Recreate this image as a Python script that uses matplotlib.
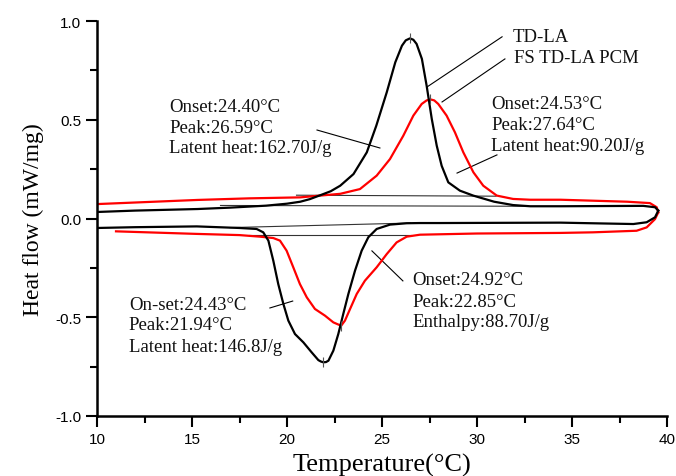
import matplotlib
matplotlib.use("Agg")
import matplotlib.pyplot as plt
from matplotlib.ticker import MultipleLocator

# ---------------- data ----------------
# TD-LA heating (upper, black)
td_heat_T = [10.0, 12.0, 15.3, 17.0, 18.9, 20.0, 20.7, 21.2, 21.7, 22.3, 22.8, 23.5, 24.2, 24.7,
             25.25, 25.7, 26.05, 26.25, 26.47, 26.65, 26.82, 27.1, 27.35, 27.62, 27.88, 28.14,
             28.49, 29.1, 29.8, 30.9, 31.9, 32.8, 34.4, 36.5, 38.75, 39.37, 39.54]
td_heat_v = [0.033, 0.040, 0.048, 0.055, 0.065, 0.075, 0.085, 0.098, 0.116, 0.138, 0.166, 0.225,
             0.335, 0.470, 0.639, 0.791, 0.875, 0.902, 0.912, 0.905, 0.884, 0.808, 0.672, 0.504,
             0.369, 0.267, 0.183, 0.141, 0.116, 0.085, 0.068, 0.062, 0.062, 0.063, 0.064, 0.057,
             0.040]
# TD-LA cooling (lower, black) from high T to low T
td_cool_T = [39.54, 39.37, 38.93, 38.23, 36.0, 34.4, 31.0, 28.0, 27.0, 26.3, 25.42, 24.72,
             24.28, 23.93, 23.58, 23.23, 22.96, 22.7, 22.44, 22.18, 22.05, 21.91, 21.78, 21.65,
             21.3, 20.86, 20.42, 20.07, 19.81, 19.54, 19.28, 19.02, 18.75, 18.4, 17.5, 15.25,
             12.0, 10.0]
td_cool_v = [0.040, 0.006, -0.019, -0.028, -0.024, -0.021, -0.022, -0.023, -0.023, -0.024,
             -0.031, -0.053, -0.095, -0.163, -0.264, -0.382, -0.484, -0.585, -0.669, -0.720,
             -0.727, -0.728, -0.724, -0.717, -0.678, -0.627, -0.585, -0.517, -0.433, -0.332,
             -0.214, -0.112, -0.070, -0.053, -0.048, -0.040, -0.044, -0.048]
# FS TD-LA PCM heating (upper, red)
fs_heat_T = [10.0, 15.3, 18.0, 20.7, 22.8, 23.84, 24.72, 25.42, 26.12, 26.65, 27.09, 27.35,
             27.55, 27.75, 27.96, 28.4, 28.84, 29.28, 29.81, 30.33, 31.04, 31.9, 32.8, 34.4,
             37.9, 39.1, 39.46, 39.54]
fs_heat_v = [0.073, 0.094, 0.102, 0.107, 0.125, 0.149, 0.217, 0.301, 0.419, 0.521, 0.580, 0.598,
             0.603, 0.598, 0.580, 0.521, 0.436, 0.335, 0.234, 0.166, 0.116, 0.099, 0.095, 0.095,
             0.085, 0.078, 0.057, 0.031]
# FS TD-LA PCM cooling (lower, red)
fs_cool_T = [39.54, 39.37, 38.93, 38.4, 36.1, 34.4, 30.0, 27.0, 26.3, 25.77, 25.25, 24.72,
             24.1, 23.67, 23.32, 23.05, 22.85, 22.44, 22.0, 21.47, 21.04, 20.68, 20.33, 19.98,
             19.63, 19.28, 18.58, 17.5, 15.25, 11.0]
fs_cool_v = [0.031, -0.003, -0.045, -0.062, -0.070, -0.073, -0.076, -0.082, -0.092, -0.121,
             -0.180, -0.247, -0.315, -0.382, -0.458, -0.517, -0.543, -0.526, -0.492, -0.458,
             -0.399, -0.332, -0.247, -0.163, -0.112, -0.099, -0.092, -0.084, -0.078, -0.065]

# integration baselines (thin lines)
base_T = [[16.5, 32.5], [20.5, 31.0], [17.0, 26.5], [18.0, 26.5]]
base_v = [[0.066, 0.062], [0.118, 0.113], [-0.046, -0.023], [-0.085, -0.085]]

# peak markers
peak_T = [26.47, 27.55, 21.91, 22.85]
peak_v = [0.912, 0.603, -0.728, -0.543]

# annotation blocks: lines, left x (T) and centre of each row (v)
blocks = [["Onset:24.40\u00b0C", "Peak:26.59\u00b0C", "Latent heat:162.70J/g"],
          ["Onset:24.53\u00b0C", "Peak:27.64\u00b0C", "Latent heat:90.20J/g"],
          ["On-set:24.43\u00b0C", "Peak:21.94\u00b0C", "Latent heat:146.8J/g"],
          ["Onset:24.92\u00b0C", "Peak:22.85\u00b0C", "Enthalpy:88.70J/g"],
          ["TD-LA"], ["FS TD-LA PCM"]]
block_T = [13.79, 30.74, 11.68, 26.58, 31.89, 31.95]
block_v = [[0.565, 0.463, 0.357], [0.580, 0.478, 0.372], [-0.433, -0.539, -0.646],
           [-0.311, -0.418, -0.524], [0.924], [0.813]]
lead_T = [[21.58, 24.89], [31.05, 28.95], [19.1, 20.3], [24.47, 26.1], [31.32, 27.37], [31.47, 28.16]]
lead_v = [[0.448, 0.357], [0.322, 0.230], [-0.453, -0.418], [-0.164, -0.316], [0.920, 0.666], [0.808, 0.590]]

x_ticks = [10, 15, 20, 25, 30, 35, 40]
y_ticks = [-1.0, -0.5, 0.0, 0.5, 1.0]

# ---------------- figure ----------------
fig = plt.figure(figsize=(6.76, 4.77), dpi=100)
ax = fig.add_axes([97 / 676, 1 - 417 / 477, 570 / 676, 395 / 477])

serif = ["Liberation Serif", "DejaVu Serif"]
sans = ["Liberation Sans", "DejaVu Sans"]

for T, v in zip(base_T, base_v):
    ax.plot(T, v, color="#333333", lw=0.8, zorder=1)

ax.plot(td_heat_T, td_heat_v, color="black", lw=1.6, zorder=3, solid_joinstyle="round")
ax.plot(td_cool_T, td_cool_v, color="black", lw=1.6, zorder=3, solid_joinstyle="round")
ax.plot(fs_heat_T, fs_heat_v, color="#ff0000", lw=1.6, zorder=2, solid_joinstyle="round")
ax.plot(fs_cool_T, fs_cool_v, color="#ff0000", lw=1.6, zorder=2, solid_joinstyle="round")

ax.plot(peak_T, peak_v, linestyle="none", marker="|", markersize=7, color="#555555",
        markeredgewidth=0.8, zorder=4)

for lines, tx, vs, lT, lv in zip(blocks, block_T, block_v, lead_T, lead_v):
    ax.plot(lT, lv, color="black", lw=0.8, zorder=1)
    for s, ty in zip(lines, vs):
        ax.text(tx, ty, s, family=serif, fontsize=13.5, va="center", ha="left",
                color="#111111")

ax.set_xlim(10, 40)
ax.set_ylim(-1.0, 1.0)
ax.set_xticks(x_ticks)
ax.set_yticks(y_ticks)
ax.set_xticklabels([f"{t:d}" for t in x_ticks], family=sans, fontsize=11)
ax.set_yticklabels([f"{t:.1f}" for t in y_ticks], family=sans, fontsize=11)
ax.xaxis.set_minor_locator(MultipleLocator(2.5))
ax.yaxis.set_minor_locator(MultipleLocator(0.25))
ax.tick_params(which="major", direction="out", length=8, width=1.5)
ax.tick_params(which="minor", direction="out", length=5, width=1.5)
for side in ["top", "right"]:
    ax.spines[side].set_visible(False)
for side in ["left", "bottom"]:
    ax.spines[side].set_linewidth(1.8)

ax.set_xlabel("Temperature(\u00b0C)", family=serif, fontsize=19, labelpad=5)
ax.set_ylabel("Heat flow (mW/mg)", family=serif, fontsize=17, labelpad=8)

fig.savefig("out.png", dpi=100)
